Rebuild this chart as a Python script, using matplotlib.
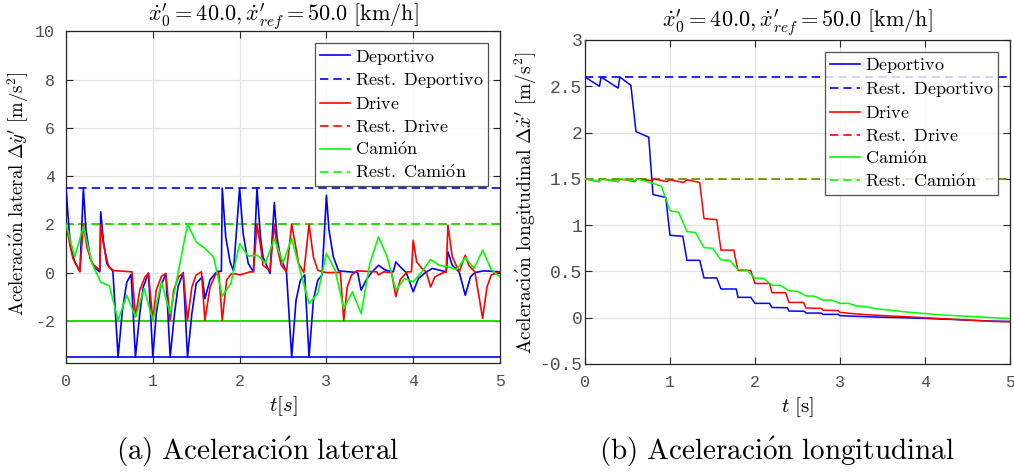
import matplotlib
matplotlib.use("Agg")
import matplotlib.pyplot as plt
from matplotlib.lines import Line2D

plt.rcParams['mathtext.fontset'] = 'cm'

# ---------------- data: lateral acceleration (left) ----------------
lat_dep_t = [0, 0.05, 0.1, 0.16, 0.2, 0.23, 0.28, 0.33, 0.39, 0.4, 0.43, 0.47, 0.54,
             0.6, 0.65, 0.7, 0.75, 0.8, 0.85, 0.89, 0.95, 1.0, 1.04, 1.09, 1.15,
             1.2, 1.25, 1.29, 1.35, 1.4, 1.45, 1.5, 1.57, 1.6, 1.66, 1.74, 1.79,
             1.8, 1.84, 1.89, 1.93, 2.0, 2.04, 2.1, 2.16, 2.2, 2.24, 2.27, 2.35,
             2.4, 2.43, 2.47, 2.54, 2.6, 2.65, 2.7, 2.75, 2.8, 2.85, 2.9, 2.95,
             3.0, 3.03, 3.08, 3.14, 3.36, 3.4, 3.46, 3.52, 3.6, 3.68, 3.77, 3.8,
             3.85, 3.92, 4.0, 4.06, 4.14, 4.22, 4.38, 4.4, 4.45, 4.53, 4.6, 4.66,
             4.71, 4.81, 5.0]
lat_dep_v = [3.5, 1.1, 0.45, 0.05, 3.5, 1.76, 0.58, 0.2, 0.03, 2.52, 1.34, 0.37, 0.05,
             -3.5, -1.56, -0.4, -0.08, -3.5, -1.7, -0.6, -0.02, -3.5, -1.7, -0.6, -0.04,
             -3.5, -1.7, -0.6, 0.0, -3.5, -1.7, -0.45, -0.18, -1.08, -0.3, 0.05, 0.05,
             3.5, 1.48, 0.44, 0.07, 3.5, 1.62, 0.37, 0.03, 3.5, 1.48, 0.65, -0.04,
             2.9, 1.48, 0.65, 0.0, -3.5, -1.15, -0.32, -0.1, -3.5, -1.15, -0.32, -0.1,
             3.2, 1.76, 0.65, 0.07, 0.0, -0.73, -0.3, 0.0, 0.3, 0.1, 0.03, 0.44,
             0.24, 0.0, -0.8, -0.25, 0.0, 0.17, 0.03, 0.86, 0.3, 0.02, -0.94, -0.18,
             0.0, 0.07, 0.03]

lat_drv_t = [0, 0.05, 0.08, 0.16, 0.2, 0.24, 0.3, 0.39, 0.4, 0.43, 0.49, 0.55, 0.76,
             0.8, 0.85, 0.91, 0.95, 1.0, 1.04, 1.1, 1.15, 1.2, 1.24, 1.3, 1.35,
             1.4, 1.45, 1.5, 1.56, 1.6, 1.66, 1.72, 1.76, 1.8, 1.85, 1.9, 1.95,
             2.0, 2.05, 2.12, 2.16, 2.2, 2.24, 2.27, 2.35, 2.4, 2.43, 2.48, 2.54,
             2.6, 2.64, 2.68, 2.74, 2.8, 2.85, 2.9, 2.95, 3.0, 3.16, 3.2, 3.24,
             3.29, 3.35, 3.58, 3.6, 3.66, 3.75, 3.8, 3.85, 3.93, 3.98, 4.0, 4.04,
             4.1, 4.15, 4.2, 4.25, 4.33, 4.38, 4.4, 4.45, 4.53, 4.6, 4.64, 4.71,
             4.8, 4.85, 4.9, 5.0]
lat_drv_v = [2.0, 1.07, 0.58, 0.03, 2.0, 1.07, 0.37, 0.1, 2.0, 1.2, 0.24, 0.08, 0.03,
             -1.84, -0.73, -0.18, -0.04, -1.98, -0.73, -0.15, -0.04, -1.98, -0.73, -0.15, -0.04,
             -1.98, -0.6, -0.1, 0.03, -1.98, -0.6, -0.1, 0.0, -1.98, -0.32, -0.07, -0.05,
             -0.1, -0.05, 0.03, 0.03, 2.0, 1.13, 0.3, 0.07, 2.0, 1.1, 0.3, 0.03,
             2.0, 1.2, 0.37, 0.0, 2.0, 0.65, 0.1, 0.03, 0.0, 0.0, -1.98, -0.6,
             -0.1, 0.07, 0.03, -0.1, 0.03, 0.0, -1.0, -0.3, 0.03, 0.03, 1.34, 0.44,
             0.17, 0.03, -0.6, -0.18, -0.03, 0.03, 1.96, 0.65, 0.03, 0.72, 0.3, 0.03,
             -1.9, -0.6, -0.1, 0.03]

lat_cam_t = [0, 0.1, 0.2, 0.3, 0.4, 0.5, 0.6, 0.7, 0.8, 0.9, 1.0, 1.1, 1.2, 1.3, 1.4,
             1.5, 1.6, 1.7, 1.8, 1.9, 2.0, 2.1, 2.2, 2.3, 2.4, 2.5, 2.6, 2.7, 2.8,
             2.9, 3.0, 3.1, 3.2, 3.3, 3.4, 3.5, 3.6, 3.7, 3.8, 3.9, 4.0, 4.1, 4.2,
             4.3, 4.4, 4.5, 4.6, 4.7, 4.8, 4.9, 5.0]
lat_cam_v = [2.0, 0.65, 1.9, 0.37, -0.4, -0.55, -1.98, -0.94, -1.84, -0.66, -1.98, -0.39,
             -1.7, 0.15, 2.0, 1.27, 1.0, 0.65, -0.98, -0.45, 1.2, 0.68, 0.72, 0.4, 1.42,
             0.4, 1.41, 0.05, -1.29, -0.87, 0.79, 0.1, -1.49, -0.8, -1.7, 0.37, 1.48,
             0.65, -0.73, -0.25, -0.39, 0.03, 0.54, 0.3, 0.24, 0.12, 0.62, 0.17, 0.93,
             0.12, -0.18]

lat_rest = {'Deportivo': 3.5, 'Drive': 2.0, 'Camión': 2.0}

# ---------------- data: longitudinal acceleration (right) ----------------
lon_dep_t = [0, 0.17, 0.19, 0.39, 0.41, 0.54, 0.6, 0.75, 0.8, 0.95, 1.0, 1.15, 1.2,
             1.35, 1.4, 1.55, 1.6, 1.78, 1.8, 1.95, 2.0, 2.17, 2.2, 2.38, 2.4, 2.58,
             2.6, 2.78, 2.8, 2.98, 3.0, 3.2, 3.4, 3.6, 3.8, 4.0, 4.2, 4.4, 4.6, 4.8, 5.0]
lon_dep_v = [2.6, 2.5, 2.6, 2.48, 2.6, 2.51, 2.01, 1.95, 1.33, 1.30, 0.89, 0.88, 0.62,
             0.62, 0.43, 0.43, 0.31, 0.31, 0.22, 0.22, 0.155, 0.155, 0.11, 0.108, 0.072, 0.07,
             0.05, 0.05, 0.036, 0.036, 0.022, 0.015, 0.008, 0.003, -0.002, -0.008, -0.015,
             -0.022, -0.03, -0.037, -0.04]

lon_drv_t = [0, 0.17, 0.19, 0.39, 0.41, 0.59, 0.61, 0.79, 0.81, 0.96, 1.0, 1.16, 1.2,
             1.35, 1.4, 1.55, 1.6, 1.75, 1.8, 1.95, 2.0, 2.17, 2.2, 2.36, 2.4, 2.57,
             2.6, 2.78, 2.8, 2.98, 3.0, 3.2, 3.4, 3.6, 3.8, 4.0, 4.2, 4.4, 4.6, 4.8, 5.0]
lon_drv_v = [1.5, 1.47, 1.5, 1.47, 1.5, 1.47, 1.5, 1.48, 1.5, 1.47, 1.49, 1.46, 1.49,
             1.46, 1.07, 1.06, 0.73, 0.73, 0.51, 0.51, 0.37, 0.37, 0.27, 0.27, 0.165, 0.165,
             0.105, 0.10, 0.08, 0.078, 0.057, 0.04, 0.028, 0.018, 0.01, 0.0, -0.01, -0.02,
             -0.03, -0.04, -0.045]

lon_cam_t = [0, 0.17, 0.19, 0.39, 0.41, 0.59, 0.61, 0.79, 0.9, 1.0, 1.1, 1.2, 1.3, 1.4,
             1.5, 1.6, 1.7, 1.8, 1.9, 2.0, 2.1, 2.2, 2.3, 2.4, 2.5, 2.6, 2.7, 2.8, 2.9,
             3.0, 3.1, 3.2, 3.3, 3.4, 3.6, 3.8, 4.0, 4.2, 4.4, 4.6, 4.8, 5.0]
lon_cam_v = [1.5, 1.47, 1.5, 1.47, 1.5, 1.48, 1.5, 1.455, 1.42, 1.155, 1.14, 0.93, 0.92,
             0.757, 0.75, 0.624, 0.62, 0.52, 0.515, 0.427, 0.425, 0.35, 0.35, 0.29, 0.285,
             0.235, 0.232, 0.19, 0.19, 0.155, 0.155, 0.125, 0.122, 0.10, 0.08, 0.06, 0.045,
             0.03, 0.02, 0.01, 0.0, -0.01]

lon_rest = {'Deportivo': 2.6, 'Drive': 1.5, 'Camión': 1.5}

t_end = 5.0
colors = {'Deportivo': '#0000ff', 'Drive': '#ff0000', 'Camión': '#00ff00'}

TICKFAM = ['Liberation Mono', 'DejaVu Sans Mono']
AXCOL = '#262626'
TICKCOL = '#4d4d4d'

fig = plt.figure(figsize=(10.14, 4.76), dpi=100)
axL = fig.add_axes([0.0651, 0.2374, 0.4280, 0.6968])
axR = fig.add_axes([0.5769, 0.2353, 0.4192, 0.6807])


def style(ax, yticks, ylim, yticklabels, ysize, ypad):
    ax.set_xlim(0, t_end)
    ax.set_ylim(*ylim)
    ax.set_xticks([0, 1, 2, 3, 4, 5])
    ax.set_yticks(yticks)
    ax.set_xticklabels([str(v) for v in [0, 1, 2, 3, 4, 5]],
                       fontdict=dict(family=TICKFAM, size=12))
    ax.set_yticklabels(yticklabels, fontdict=dict(family=TICKFAM, size=ysize))
    ax.grid(True, color='#e3e3e3', linewidth=0.9)
    ax.set_axisbelow(True)
    ax.tick_params(direction='in', length=5, width=0.8, colors=AXCOL,
                   top=True, right=True, labelcolor=TICKCOL)
    ax.tick_params(axis='x', pad=8)
    ax.tick_params(axis='y', pad=ypad)
    for s in ax.spines.values():
        s.set_color(AXCOL)
        s.set_linewidth(0.9)


series_names = ['Deportivo', 'Drive', 'Camión']
tex_names = {'Deportivo': r'\mathrm{Deportivo}', 'Drive': r'\mathrm{Drive}',
             'Camión': r'\mathrm{Cami\acute{o}n}'}
DASH = (0, (5, 3))
TITLE = r"$\dot{x}^{\prime}_0 = 40.0, \dot{x}^{\prime}_{ref} = 50.0\ [\mathrm{km/h}]$"


def add_legend(ax, handles):
    leg = ax.legend(handles=handles, loc='upper right', fontsize=13, frameon=True,
                    fancybox=False, edgecolor='#262626', handlelength=1.7,
                    handletextpad=0.25, labelspacing=0.27, borderpad=0.25,
                    borderaxespad=0.65)
    leg.get_frame().set_linewidth(0.9)


# ---- left plot ----
lat_data = {'Deportivo': (lat_dep_t, lat_dep_v), 'Drive': (lat_drv_t, lat_drv_v),
            'Camión': (lat_cam_t, lat_cam_v)}
handles = []
for name in series_names:
    t, v = lat_data[name]
    c = colors[name]
    axL.plot(t, v, color=c, lw=1.2, zorder=3)
    r = lat_rest[name]
    axL.plot([t_end, 0, 0], [r, r, -r], color=c, lw=1.2, ls=DASH, zorder=2)
    axL.plot([0, t_end], [-r, -r], color=c, lw=1.2, zorder=2)
    handles.append(Line2D([], [], color=c, lw=1.2, label='$' + tex_names[name] + '$'))
    handles.append(Line2D([], [], color=c, lw=1.2, ls=DASH,
                          label=r'$\mathrm{Rest.\ }' + tex_names[name] + '$'))

style(axL, [-2, 0, 2, 4, 6, 8, 10], (-3.75, 10), ['-2', '0', '2', '4', '6', '8', '10'], 12, 8)
add_legend(axL, handles)
axL.set_xlabel(r'$t[s]$', fontsize=15, labelpad=4)
axL.set_ylabel(r'$\mathrm{Aceleraci\acute{o}n\ lateral}\ \Delta\dot{y}^{\prime}\ [\mathrm{m/s}^2]$',
               fontsize=13.5)
axL.yaxis.set_label_coords(-0.080, 0.509)
axL.set_title(TITLE, fontsize=16, pad=7)

# ---- right plot ----
lon_data = {'Deportivo': (lon_dep_t, lon_dep_v), 'Drive': (lon_drv_t, lon_drv_v),
            'Camión': (lon_cam_t, lon_cam_v)}
handles = []
for name in series_names:
    t, v = lon_data[name]
    c = colors[name]
    axR.plot(t, v, color=c, lw=1.1, zorder=3)
    r = lon_rest[name]
    alpha = 0.65 if name == 'Camión' else 1.0
    axR.plot([0, t_end], [r, r], color=c, lw=1.2, ls=DASH, alpha=alpha, zorder=2)
    handles.append(Line2D([], [], color=c, lw=1.2, label='$' + tex_names[name] + '$'))
    handles.append(Line2D([], [], color=c, lw=1.2, ls=DASH,
                          label=r'$\mathrm{Rest.\ }' + tex_names[name] + '$'))

style(axR, [-0.5, 0, 0.5, 1, 1.5, 2, 2.5, 3], (-0.5, 3),
      ['-0.5', '0', '0.5', '1', '1.5', '2', '2.5', '3'], 13, 2)
add_legend(axR, handles)
axR.set_xlabel(r'$t\ [\mathrm{s}]$', fontsize=15, labelpad=4)
axR.set_ylabel(r'$\mathrm{Aceleraci\acute{o}n\ longitudinal}\ \Delta\dot{x}^{\prime}\ [\mathrm{m/s}^2]$',
               fontsize=14)
axR.yaxis.set_label_coords(-0.108, 0.498)
axR.set_title(TITLE, fontsize=16, pad=9)

fig.text(258 / 1014, 1 - 452 / 476, r'$\mathrm{(a)\ Aceleraci\acute{o}n\ lateral}$',
         ha='center', va='center', fontsize=21)
fig.text(777 / 1014, 1 - 452 / 476, r'$\mathrm{(b)\ Aceleraci\acute{o}n\ longitudinal}$',
         ha='center', va='center', fontsize=21)

fig.savefig('out.png', dpi=100)
